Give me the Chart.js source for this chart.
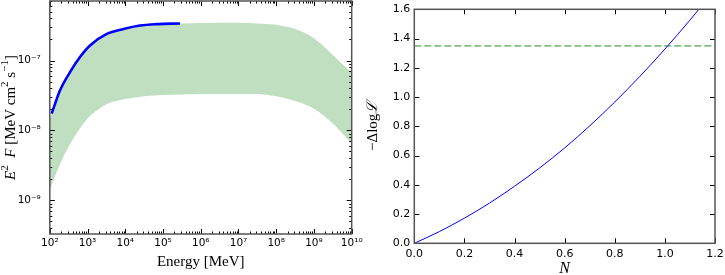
<!DOCTYPE html>
<html>
<head>
<meta charset="utf-8">
<script src="https://cdn.jsdelivr.net/npm/chart.js@4.4.1/dist/chart.umd.min.js"></script>
<style>
  html, body { margin: 0; padding: 0; background: #fff; width: 725px; height: 275px; overflow: hidden; }
  #left { position: absolute; left: 0; top: 0; width: 372px; height: 275px; }
  #right { position: absolute; left: 362px; top: 0; width: 363px; height: 275px; }
</style>
</head>
<body>
<div id="left"><canvas id="sedChart"></canvas></div>
<div id="right"><canvas id="likeChart"></canvas></div>
<script>
// === Data: spectral band (left) ===
const energy    = [100, 178, 316, 562, 1000, 3160, 1e4, 3.16e4, 1e5, 3.16e5, 1e6, 3.16e6, 1e7, 3.16e7, 1e8, 3.16e8, 1e9, 3.16e9, 5.62e9, 1e10];
const bandUpper = [1.45e-8, 3.55e-8, 6.31e-8, 1.02e-7, 1.51e-7, 2.40e-7, 2.85e-7, 3.16e-7, 3.31e-7, 3.39e-7, 3.43e-7, 3.47e-7, 3.47e-7, 3.39e-7, 3.24e-7, 2.82e-7, 2.09e-7, 1.20e-7, 8.9e-8, 6.76e-8];
const bandLower = [1.41e-9, 3.09e-9, 5.89e-9, 9.77e-9, 1.48e-8, 2.37e-8, 2.82e-8, 3.09e-8, 3.20e-8, 3.27e-8, 3.31e-8, 3.33e-8, 3.33e-8, 3.31e-8, 3.09e-8, 2.63e-8, 2.04e-8, 1.26e-8, 9.1e-9, 6.46e-9];

// === Data: fitted spectrum (blue) ===
const fitEnergy = [112, 186, 343, 631, 1161, 3236, 8913, 24547, 67608, 281838];
const fitFlux   = [1.74e-8, 3.72e-8, 6.81e-8, 1.12e-7, 1.64e-7, 2.40e-7, 2.82e-7, 3.16e-7, 3.31e-7, 3.39e-7];

// === Data: likelihood profile (right) ===
const normN     = [0, 0.1, 0.2, 0.3, 0.4, 0.5, 0.6, 0.7, 0.8, 0.9, 1.0, 1.1, 1.2];
const deltaLogL = [0, 0.08, 0.172, 0.275, 0.39, 0.515, 0.652, 0.803, 0.966, 1.141, 1.328, 1.526, 1.736];
const threshold = 1.35;

// === Ticks ===
const energyTicks      = [1e2, 1e3, 1e4, 1e5, 1e6, 1e7, 1e8, 1e9, 1e10];
const energyTickLabels = ['10²', '10³', '10⁴', '10⁵', '10⁶', '10⁷', '10⁸', '10⁹', '10¹⁰'];
const fluxTicks        = [1e-9, 1e-8, 1e-7];
const fluxTickLabels   = ['10⁻⁹', '10⁻⁸', '10⁻⁷'];
const nTicks           = [0, 0.2, 0.4, 0.6, 0.8, 1.0, 1.2];
const nTickLabels      = ['0.0', '0.2', '0.4', '0.6', '0.8', '1.0', '1.2'];
const dllTicks         = [0, 0.2, 0.4, 0.6, 0.8, 1.0, 1.2, 1.4, 1.6];
const dllTickLabels    = ['0.0', '0.2', '0.4', '0.6', '0.8', '1.0', '1.2', '1.4', '1.6'];

const tickFont = { family: 'DejaVu Sans', size: 11 };
const logTickFont = { family: 'DejaVu Sans', size: 10.5 };
const serif = '"Liberation Serif", "DejaVu Serif", serif';
const noGrid = { display: false, drawTicks: false, tickLength: 0 };

function richFont(p, size) {
  return (p.i ? 'italic ' : '') + (p.sup ? Math.round(size * 0.7) : size) + 'px ' + serif;
}

// draws a label made of pieces (italic / superscript), centred on cx,cy
function drawRich(ctx, parts, cx, cy, size, rotate) {
  ctx.save();
  ctx.translate(cx, cy);
  if (rotate) ctx.rotate(-Math.PI / 2);
  ctx.fillStyle = '#000';
  ctx.textBaseline = 'middle';
  ctx.textAlign = 'left';
  let w = 0;
  parts.forEach(p => { ctx.font = richFont(p, size); p.w = ctx.measureText(p.t).width; w += p.w; });
  let x = -w / 2;
  parts.forEach(p => {
    ctx.font = richFont(p, size);
    ctx.fillText(p.t, x, p.sup ? -size * 0.38 : 0);
    x += p.w;
  });
  ctx.restore();
}

function line(ctx, x1, y1, x2, y2) {
  ctx.beginPath(); ctx.moveTo(x1, y1); ctx.lineTo(x2, y2); ctx.stroke();
}

// inward ticks on all four sides + frame
function drawFrame(chart, logMinor) {
  const { ctx, chartArea: a, scales: { x, y } } = chart;
  ctx.save();
  ctx.strokeStyle = '#000';
  ctx.lineWidth = 1;
  const major = 5, minor = 2.5;
  x.ticks.forEach(t => {
    const px = Math.round(x.getPixelForValue(t.value)) + 0.5;
    line(ctx, px, a.bottom, px, a.bottom - major);
    line(ctx, px, a.top, px, a.top + major);
  });
  y.ticks.forEach(t => {
    const py = Math.round(y.getPixelForValue(t.value)) + 0.5;
    line(ctx, a.left, py, a.left + major, py);
    line(ctx, a.right, py, a.right - major, py);
  });
  if (logMinor) {
    [x, y].forEach(s => {
      for (let d = 1e-11; d < 1e11; d *= 10) {
        for (let k = 2; k <= 9; k++) {
          const v = d * k;
          if (v <= s.min || v >= s.max) continue;
          const p = Math.round(s.getPixelForValue(v)) + 0.5;
          if (s === x) {
            line(ctx, p, a.bottom, p, a.bottom - minor);
            line(ctx, p, a.top, p, a.top + minor);
          } else {
            line(ctx, a.left, p, a.left + minor, p);
            line(ctx, a.right, p, a.right - minor, p);
          }
        }
      }
    });
  }
  ctx.strokeStyle = '#555';
  ctx.lineWidth = 1.5;
  ctx.strokeRect(a.left, a.top, a.right - a.left, a.bottom - a.top);
  ctx.restore();
}

const baseOptions = {
  responsive: true,
  maintainAspectRatio: false,
  animation: false,
  events: [],
  plugins: { legend: { display: false }, tooltip: { enabled: false } }
};

// === Left chart ===
new Chart(document.getElementById('sedChart'), {
  type: 'line',
  data: {
    datasets: [
      {
        data: fitEnergy.map((e, i) => ({ x: e, y: fitFlux[i] })),
        borderColor: '#0000ff', borderWidth: 2.6, pointRadius: 0,
        cubicInterpolationMode: 'monotone', fill: false
      },
      {
        data: energy.map((e, i) => ({ x: e, y: bandUpper[i] })),
        borderWidth: 0, borderColor: 'rgba(0,0,0,0)', pointRadius: 0,
        backgroundColor: 'rgb(192,223,192)',
        cubicInterpolationMode: 'monotone', fill: '+1'
      },
      {
        data: energy.map((e, i) => ({ x: e, y: bandLower[i] })),
        borderWidth: 0, borderColor: 'rgba(0,0,0,0)', pointRadius: 0,
        cubicInterpolationMode: 'monotone', fill: false
      }
    ]
  },
  options: {
    ...baseOptions,
    layout: { padding: { top: 1, right: 20.3, left: 0, bottom: 0 } },
    scales: {
      x: {
        type: 'logarithmic', min: 1e2, max: 1e10,
        grid: noGrid, border: { display: false },
        afterBuildTicks: s => { s.ticks = energyTicks.map(v => ({ value: v })); },
        afterFit: s => { s.height = 41; s.paddingLeft = 0; s.paddingRight = 0; },
        ticks: { font: logTickFont, color: '#000', padding: 3, maxRotation: 0, autoSkip: false,
          callback: (v, i) => energyTickLabels[i] }
      },
      y: {
        type: 'logarithmic', min: 3.3e-10, max: 7.1e-7,
        grid: noGrid, border: { display: false },
        afterBuildTicks: s => { s.ticks = fluxTicks.map(v => ({ value: v })); },
        afterFit: s => { s.width = 49.8; s.paddingTop = 0; s.paddingBottom = 0; },
        ticks: { font: logTickFont, color: '#000', padding: 9, autoSkip: false,
          callback: (v, i) => fluxTickLabels[i] }
      }
    }
  },
  plugins: [{
    id: 'sedDecor',
    afterDraw(chart) {
      drawFrame(chart, true);
      const a = chart.chartArea;
      drawRich(chart.ctx, [{ t: 'Energy [MeV]' }], (a.left + a.right) / 2, 262, 15, false);
      drawRich(chart.ctx, [
        { t: 'E', i: 1 }, { t: '2', sup: 1 }, { t: '  ' }, { t: 'F', i: 1 },
        { t: ' [MeV cm' }, { t: '2', sup: 1 }, { t: ' s' }, { t: '−1', sup: 1 }, { t: ']' }
      ], 11, (a.top + a.bottom) / 2, 15, true);
    }
  }]
});

// === Right chart ===
new Chart(document.getElementById('likeChart'), {
  type: 'line',
  data: {
    datasets: [
      {
        data: normN.map((n, i) => ({ x: n, y: deltaLogL[i] })),
        borderColor: '#0000ff', borderWidth: 1, pointRadius: 0,
        cubicInterpolationMode: 'monotone', fill: false
      },
      {
        data: [{ x: 0, y: threshold }, { x: 1.2, y: threshold }],
        borderColor: 'rgba(0,128,0,0.5)', borderWidth: 1.8, borderDash: [7, 3],
        pointRadius: 0, fill: false
      }
    ]
  },
  options: {
    ...baseOptions,
    layout: { padding: { top: 9.3, right: 10, left: 0, bottom: 0 } },
    scales: {
      x: {
        type: 'linear', min: 0, max: 1.2,
        grid: noGrid, border: { display: false },
        afterBuildTicks: s => { s.ticks = nTicks.map(v => ({ value: v })); },
        afterFit: s => { s.height = 31.7; s.paddingLeft = 0; s.paddingRight = 0; },
        ticks: { font: tickFont, color: '#000', padding: 4, maxRotation: 0, autoSkip: false,
          callback: (v, i) => nTickLabels[i] }
      },
      y: {
        type: 'linear', min: 0, max: 1.6,
        grid: noGrid, border: { display: false },
        afterBuildTicks: s => { s.ticks = dllTicks.map(v => ({ value: v })); },
        afterFit: s => { s.width = 52.3; s.paddingTop = 0; s.paddingBottom = 0; },
        ticks: { font: tickFont, color: '#000', padding: 4, autoSkip: false,
          callback: (v, i) => dllTickLabels[i] }
      }
    }
  },
  plugins: [{
    id: 'likeDecor',
    afterDraw(chart) {
      drawFrame(chart, false);
      const a = chart.chartArea;
      drawRich(chart.ctx, [{ t: 'N', i: 1 }], (a.left + a.right) / 2, 269, 16, false);
      drawRich(chart.ctx, [{ t: '−Δlog' }, { t: 'ℒ', i: 1 }], 11, (a.top + a.bottom) / 2, 15, true);
    }
  }]
});
</script>
</body>
</html>
